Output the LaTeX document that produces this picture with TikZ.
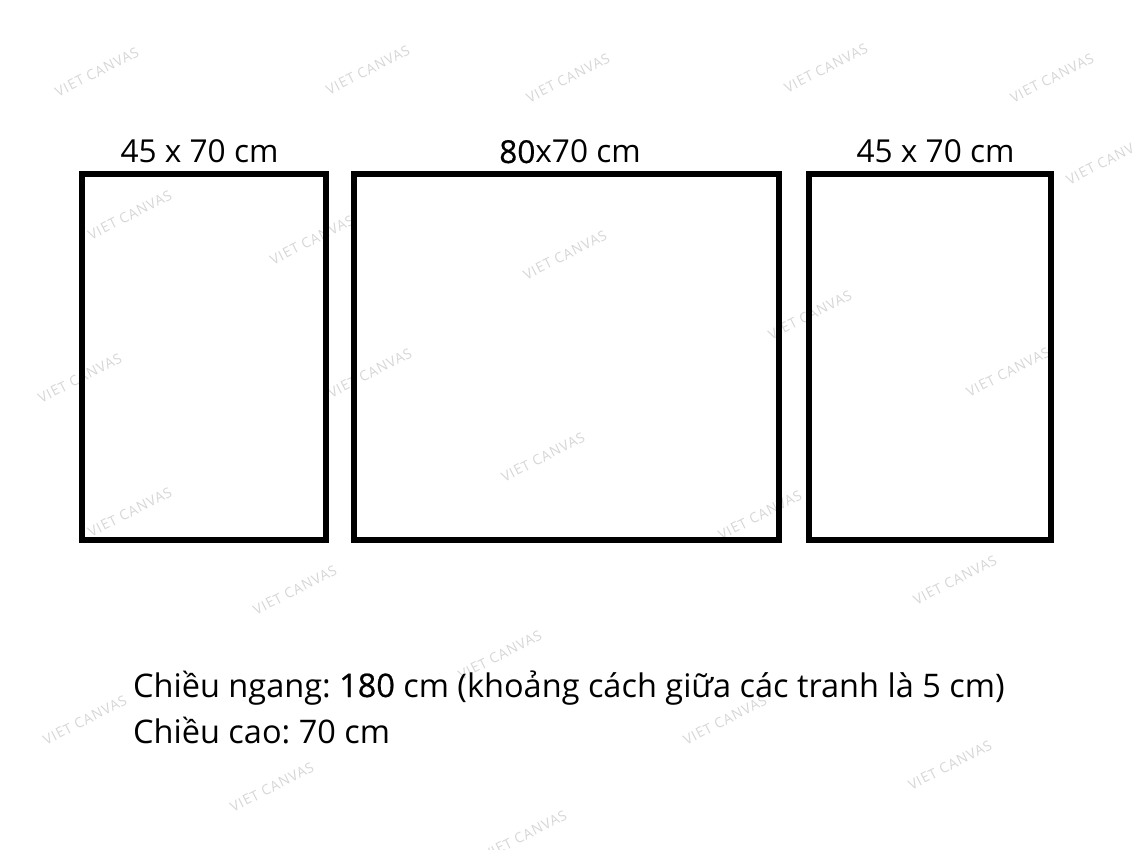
\documentclass[tikz,border=0pt]{standalone}
\usepackage{fontspec}
\setmainfont{Open Sans}
\newfontface\semib[FakeBold=0.5]{Open Sans}
\newfontface\wmfont[LetterSpace=6]{Open Sans}
\frenchspacing
\begin{document}
\begin{tikzpicture}[x=1pt,y=-1pt,
  panel/.style={draw=black,line width=6pt,rectangle,minimum height=366pt,inner sep=0pt},
  sizelabel/.style={anchor=base,inner sep=0pt,font=\fontsize{31.6}{36}\selectfont},
  infotext/.style={anchor=base west,inner sep=0pt,font=\fontsize{32.5}{38}\selectfont},
  wm/.style={text=black!16,rotate=27,inner sep=0pt,font=\wmfont\fontsize{14}{16}\selectfont}]
\useasboundingbox (0,0) rectangle (1134,850);
% watermarks
\foreach \px/\py [count=\i] in {97/72,368/70,568/78,826/68,1052/78,1108/160,130/215,312/240,565/255,810/315,80/378,370/373,1008/372,543/457,760/515,130/512,295/590,955/580,500/655,85/720,725/720,950/765,272/787,525/835}
  \node[wm] (wm\i) at (\px,\py) {VIET CANVAS};
% panels
\node[panel,minimum width=244pt] (left) at (204,357) {};
\node[panel,minimum width=425pt] (mid) at (566.5,357) {};
\node[panel,minimum width=242pt] (right) at (930,357) {};
% size labels
\node[sizelabel] (lleft) at (199.5,163) {45 x 70 cm};
\node[sizelabel] (lmid) at (570,163) {{\semib 80}x70 cm};
\node[sizelabel] (lright) at (935.5,163) {45 x 70 cm};
% info text
\node[infotext] (info1) at (133,697) {Chiều ngang: {\semib 180} cm (khoảng cách giữa các tranh là 5 cm)};
\node[infotext] (info2) at (133,743) {Chiều cao: 70 cm};
\end{tikzpicture}
\end{document}
